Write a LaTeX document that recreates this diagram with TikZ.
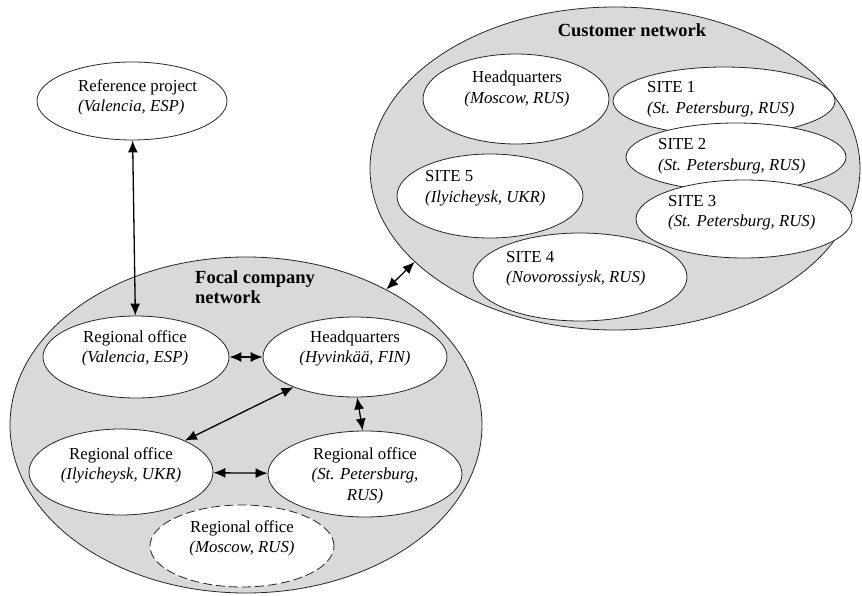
\documentclass[tikz,border=0pt]{standalone}
\usepackage{fontspec}
\setmainfont{Liberation Serif}
\usetikzlibrary{arrows.meta,shapes.geometric}
\begin{document}
\begin{tikzpicture}[x=1pt,y=-1pt,
  network/.style={ellipse,draw=black!85,line width=0.8pt,fill=black!15,inner sep=0pt},
  unit/.style={ellipse,draw=black!85,line width=0.8pt,fill=white,inner sep=0pt},
  planned/.style={unit,dash pattern=on 9pt off 4pt},
  txt/.style={font=\fontsize{16.8}{20.5}\selectfont,inner sep=0pt,align=center,anchor=base},
  txtl/.style={font=\fontsize{16.8}{20.5}\selectfont,inner sep=0pt,align=left,anchor=base west},
  head/.style={font=\fontsize{18.5}{20.5}\selectfont\bfseries,inner sep=0pt},
  link/.style={{Latex[length=12pt,width=10pt]}-{Latex[length=12pt,width=10pt]},line width=1.3pt}
]
\useasboundingbox (0,0) rectangle (862,596);

% the two networks
\node[network,minimum width=472pt,minimum height=336pt] (focal) at (246,425) {};
\node[network,minimum width=490pt,minimum height=323pt] (cust) at (615,168.5) {};

% reference project (text anchored at the baseline of its last line)
\node[unit,minimum width=190pt,minimum height=78pt] (refp) at (132,101) {};
\node[txtl] (t-refp) at (78,112) {Reference project\\\textit{(Valencia, ESP)}};

% focal company network
\node[head,align=left,anchor=base west] (t-focal) at (195,303.5) {Focal company\\network};
\node[unit,minimum width=186pt,minimum height=82pt] (valoff) at (136,357) {};
\node[unit,minimum width=184pt,minimum height=80pt] (hqf) at (355,357) {};
\node[unit,minimum width=184pt,minimum height=86pt] (ilo) at (121,472) {};
\node[unit,minimum width=194pt,minimum height=86pt] (stp) at (365,474) {};
\node[planned,minimum width=184pt,minimum height=82pt] (mos) at (242,546) {};

\node[txt] (t-valoff) at (135,362.5) {Regional office\\\textit{(Valencia, ESP)}};
\node[txt] (t-hqf) at (355,362.5) {Headquarters\\\textit{(Hyvinkää, FIN)}};
\node[txt] (t-ilo) at (121,479.5) {Regional office\\\textit{(Ilyicheysk, UKR)}};
\node[txt] (t-stp) at (365,500) {Regional office\\\textit{(St. Petersburg,}\\\textit{RUS)}};
\node[txt] (t-mos) at (242,552.5) {Regional office\\\textit{(Moscow, RUS)}};

% customer network
\node[head,anchor=base] (t-cust) at (632,37) {Customer network};
\node[unit,minimum width=186pt,minimum height=90pt] (hqm) at (516,99) {};
\node[unit,minimum width=222pt,minimum height=68pt] (s1) at (724,101) {};
\node[unit,minimum width=220pt,minimum height=68pt] (s2) at (736,157) {};
\node[unit,minimum width=216pt,minimum height=78pt] (s3) at (744,219) {};
\node[unit,minimum width=186pt,minimum height=84pt] (s5) at (490,196) {};
\node[unit,minimum width=214pt,minimum height=88pt] (s4) at (580,277) {};

\node[txt] (t-hqm) at (517,103.5) {Headquarters\\\textit{(Moscow, RUS)}};
\node[txtl] (t-s1) at (647,113.5) {SITE 1\\\textit{(St. Petersburg, RUS)}};
\node[txtl] (t-s2) at (658,170.5) {SITE 2\\\textit{(St. Petersburg, RUS)}};
\node[txtl] (t-s3) at (668,226.5) {SITE 3\\\textit{(St. Petersburg, RUS)}};
\node[txtl] (t-s5) at (425,202.5) {SITE 5\\\textit{(Ilyicheysk, UKR)}};
\node[txtl] (t-s4) at (506,282.5) {SITE 4\\\textit{(Novorossiysk, RUS)}};

% links
\draw[link] (refp) -- (valoff);
\draw[link] (valoff) -- (hqf);
\draw[link] (hqf) -- (ilo);
\draw[link] (hqf.-87) -- (stp.93);
\draw[link] (ilo) -- (stp);
\draw[link] (focal.44) -- (cust.205.5);
\end{tikzpicture}
\end{document}
